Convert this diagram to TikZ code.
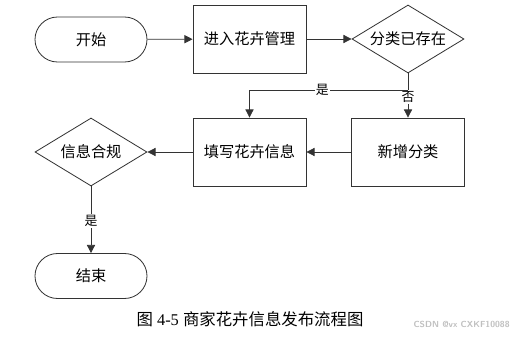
\documentclass[tikz,border=0pt]{standalone}
\usepackage{fontspec}
\setmainfont{Liberation Serif}
\newfontfamily\cjk{Noto Sans CJK SC}
\usetikzlibrary{shapes.geometric,arrows.meta}

\begin{document}
\begin{tikzpicture}[x=0.03cm,y=-0.03cm,
    line/.style={draw=black!80,line width=0.7pt},
    arr/.style={line,-{Triangle[length=7pt,width=7pt]}},
    term/.style={line,rounded corners=0.675cm,minimum width=3.36cm,minimum height=1.35cm,font=\cjk\fontsize{13}{15}\selectfont},
    proc/.style={line,minimum width=3.39cm,minimum height=2.04cm,font=\cjk\fontsize{13}{15}\selectfont},
    dec/.style={line,diamond,aspect=1.65,inner sep=0pt,minimum width=3.36cm,minimum height=2.04cm,font=\cjk\fontsize{13}{15}\selectfont},
    lbl/.style={fill=white,inner sep=1pt,font=\cjk\fontsize{11}{13}\selectfont}]
    \useasboundingbox (0,0) rectangle (511,337);
    % top row
    \node[term] (start) at (91,39.5) {开始};
    \node[proc] (enter) at (249.5,39) {进入花卉管理};
    \node[dec] (exist) at (408,39) {分类已存在};
    % second row
    \node[dec] (check) at (91,152) {信息合规};
    \node[proc] (fill) at (249.5,152) {填写花卉信息};
    \node[proc] (add) at (408,152) {新增分类};
    \node[term] (end) at (91,276) {结束};
    \coordinate (split) at (408,90);
    % connectors
    \draw[arr] (start) -- (enter);
    \draw[arr] (enter) -- (exist);
    \draw[arr] (exist) -- (add) node[lbl,pos=0.53] {否};
    \draw[arr] (split) -| (fill) node[lbl,pos=0.27] {是};
    \draw[arr] (add) -- (fill);
    \draw[arr] (fill) -- (check);
    \draw[arr] (check) -- (end) node[lbl,pos=0.52] {是};
    % caption
    \node[font=\fontsize{14}{16}\selectfont] (caption) at (250,319) {{\cjk 图} 4-5 {\cjk 商家花卉信息发布流程图}};
    \node[text=black!25,font=\sffamily\bfseries\fontsize{7.5}{9}\selectfont,anchor=east,inner sep=1pt] (mark) at (511,324) {CSDN @vx CXKF10088};
\end{tikzpicture}
\end{document}
